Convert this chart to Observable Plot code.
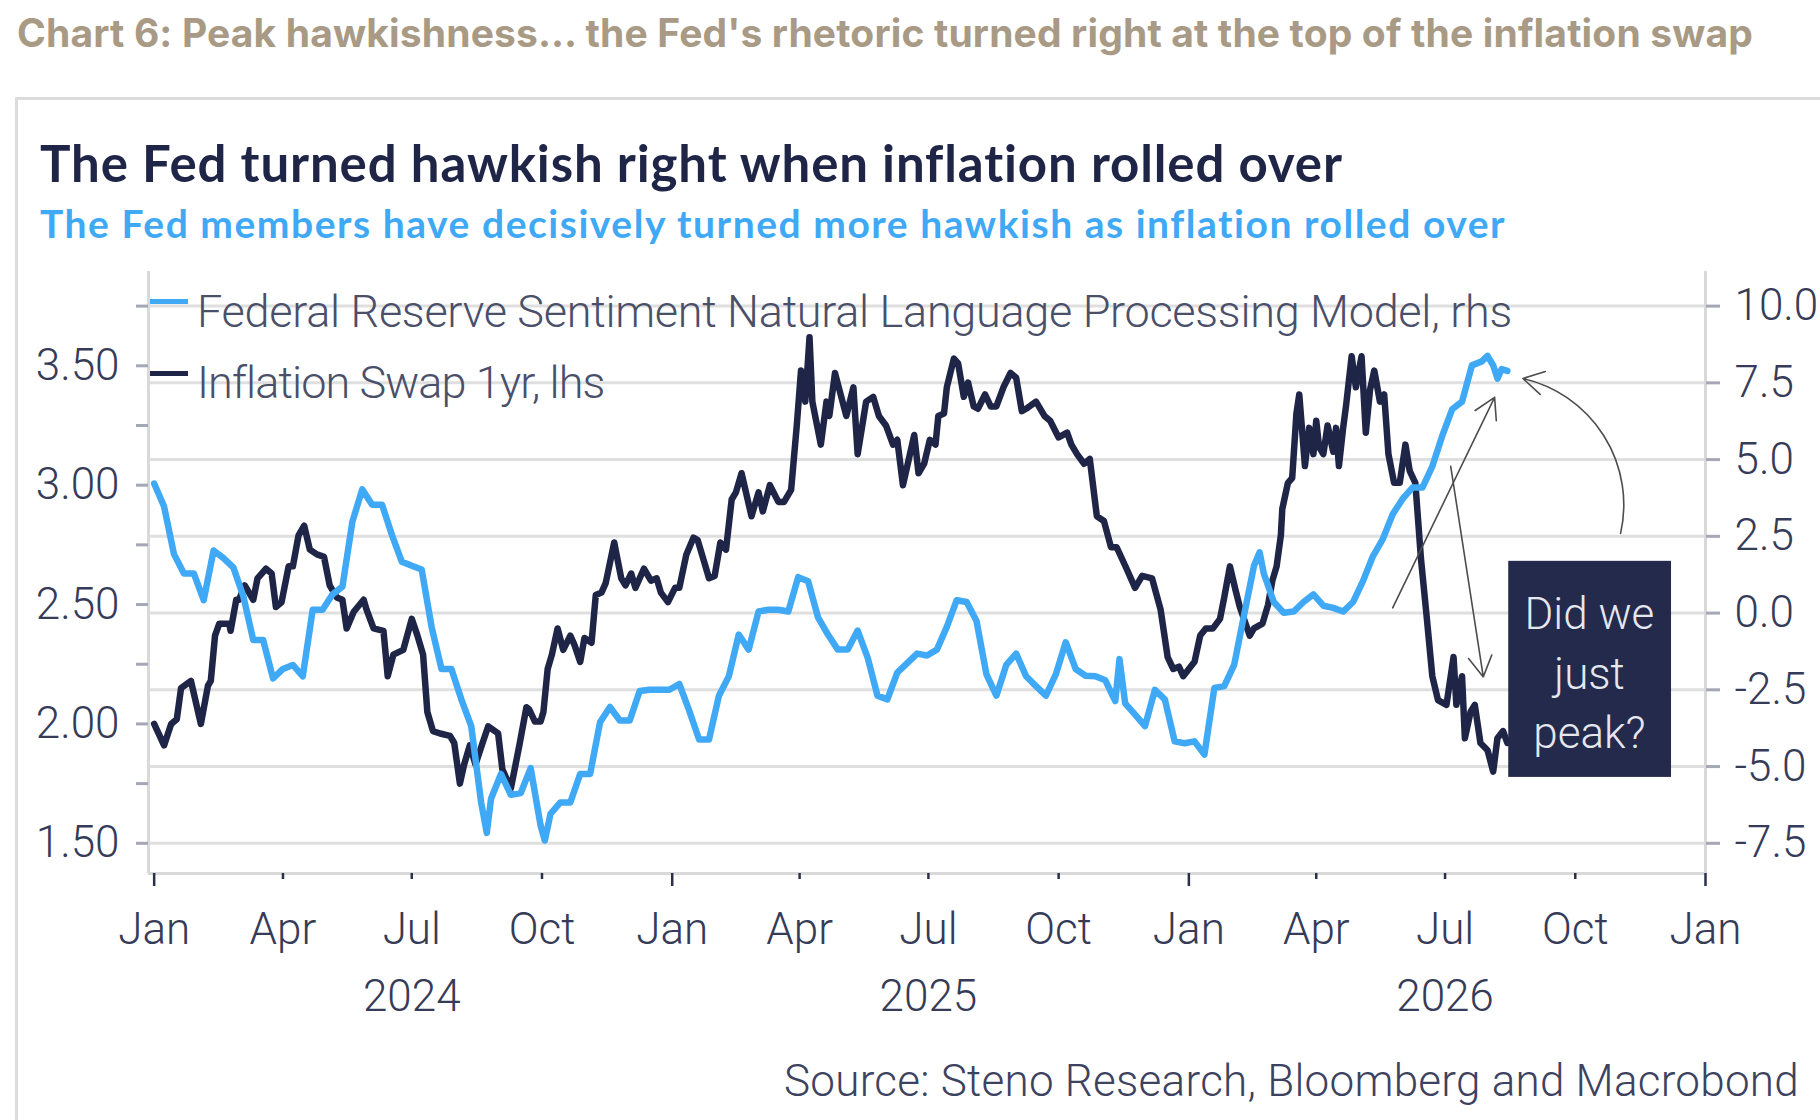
<!DOCTYPE html>
<html>
<head>
<meta charset="utf-8">
<script src="https://cdn.jsdelivr.net/npm/d3@7"></script>
<script src="https://cdn.jsdelivr.net/npm/@observablehq/plot@0.6"></script>
<style>
  html, body { margin: 0; padding: 0; background: #fff; }
  #wrap { position: relative; width: 1820px; height: 1120px; overflow: hidden; background: #fff; }
  .t { position: absolute; white-space: nowrap; line-height: 1; }
  #chartTitle { left: 17px; top: 8.6px; font: 700 39px Inter, sans-serif; color: #a89a84; }
  #panel { position: absolute; left: 15px; top: 97px; width: 1900px; height: 1100px;
           border-top: 3px solid #dcdcdc; border-left: 3px solid #dcdcdc; }
  #mainTitle { left: 40px; top: 131.5px; font: 700 51px Lato, sans-serif; color: #1f2547; }
  #subTitle { left: 40px; top: 200.4px; font: 700 39px Lato, sans-serif; color: #3fa9f5; }
  #plotHolder { position: absolute; left: 0; top: 250px; }
  .leg { font: 300 45px Roboto, sans-serif; color: #4a4f6a; }
  .sw { position: absolute; left: 150px; width: 38px; height: 5px; }
  #source { right: 21px; top: 1054.7px; font: 300 44px Roboto, sans-serif; color: #3d4260; }
</style>
</head>
<body>
<div id="wrap">
  <div id="chartTitle" class="t" data-w="1736">Chart 6: Peak hawkishness… the Fed's rhetoric turned right at the top of the inflation swap</div>
  <div id="panel"></div>
  <div id="mainTitle" class="t" data-w="1304">The Fed turned hawkish right when inflation rolled over</div>
  <div id="subTitle" class="t" data-w="1467">The Fed members have decisively turned more hawkish as inflation rolled over</div>
  <div id="plotHolder"></div>
  <div class="sw" style="top:299px;background:#3fa9f5"></div>
  <div class="t leg" style="left:197px;top:284.7px" data-w="1315">Federal Reserve Sentiment Natural Language Processing Model, rhs</div>
  <div class="sw" style="top:371px;background:#1f2547"></div>
  <div class="t leg" style="left:197px;top:355.5px" data-w="407">Inflation Swap 1yr, lhs</div>
  <div id="source" class="t" data-w="1015">Source: Steno Research, Bloomberg and Macrobond</div>
</div>
<script>
// ---------- Data ----------
// Inflation Swap 1yr (lhs, %)
const swapDates = [
"2024-01-01","2024-01-08","2024-01-13","2024-01-17","2024-01-20","2024-01-27","2024-02-03","2024-02-08","2024-02-10",
"2024-02-13","2024-02-16","2024-02-23","2024-02-24","2024-02-28","2024-03-01","2024-03-05","2024-03-11","2024-03-14",
"2024-03-20","2024-03-24","2024-03-27","2024-03-31","2024-04-05","2024-04-08","2024-04-12","2024-04-16","2024-04-20",
"2024-04-25","2024-04-30","2024-05-04","2024-05-09","2024-05-13","2024-05-16","2024-05-21","2024-05-28","2024-05-30",
"2024-06-04","2024-06-11","2024-06-14","2024-06-18","2024-06-25","2024-07-01","2024-07-05","2024-07-09","2024-07-12",
"2024-07-16","2024-07-21","2024-07-28","2024-07-31","2024-08-04","2024-08-07","2024-08-11","2024-08-15","2024-08-20",
"2024-08-24","2024-08-31","2024-09-03","2024-09-09","2024-09-15","2024-09-20","2024-09-22","2024-09-26","2024-09-30",
"2024-10-02","2024-10-05","2024-10-08","2024-10-12","2024-10-16","2024-10-21","2024-10-24","2024-10-28","2024-10-31",
"2024-11-05","2024-11-08","2024-11-12","2024-11-15","2024-11-21","2024-11-26","2024-11-29","2024-12-03","2024-12-06",
"2024-12-12","2024-12-17","2024-12-21","2024-12-24","2024-12-29","2025-01-03","2025-01-06","2025-01-11","2025-01-16",
"2025-01-19","2025-01-23","2025-01-27","2025-01-31","2025-02-04","2025-02-08","2025-02-12","2025-02-15","2025-02-19",
"2025-02-26","2025-03-03","2025-03-06","2025-03-11","2025-03-17","2025-03-21","2025-03-26","2025-03-30","2025-04-02",
"2025-04-05","2025-04-08","2025-04-10","2025-04-16","2025-04-20","2025-04-22","2025-04-26","2025-04-30","2025-05-04",
"2025-05-09","2025-05-12","2025-05-18","2025-05-23","2025-05-27","2025-06-01","2025-06-06","2025-06-09","2025-06-13",
"2025-06-21","2025-06-24","2025-06-28","2025-07-02","2025-07-06","2025-07-08","2025-07-12","2025-07-14","2025-07-19",
"2025-07-22","2025-07-26","2025-07-29","2025-08-02","2025-08-05","2025-08-10","2025-08-14","2025-08-18","2025-08-23",
"2025-08-28","2025-09-01","2025-09-05","2025-09-08","2025-09-15","2025-09-21","2025-09-25","2025-10-01","2025-10-07",
"2025-10-10","2025-10-14","2025-10-19","2025-10-23","2025-10-28","2025-11-02","2025-11-07","2025-11-11","2025-11-18",
"2025-11-24","2025-11-29","2025-12-06","2025-12-12","2025-12-17","2025-12-21","2025-12-25","2025-12-28","2026-01-01",
"2026-01-05","2026-01-09","2026-01-13","2026-01-18","2026-01-23","2026-01-26","2026-01-30","2026-02-03","2026-02-06",
"2026-02-13","2026-02-16","2026-02-22","2026-02-26","2026-03-01","2026-03-04","2026-03-07","2026-03-08","2026-03-12",
"2026-03-15","2026-03-18","2026-03-20","2026-03-24","2026-03-27","2026-03-30","2026-04-01","2026-04-03","2026-04-06",
"2026-04-09","2026-04-13","2026-04-15","2026-04-17","2026-04-20","2026-04-22","2026-04-26","2026-04-29","2026-05-03",
"2026-05-06","2026-05-09","2026-05-12","2026-05-16","2026-05-19","2026-05-22","2026-05-26","2026-05-30","2026-06-03",
"2026-06-06","2026-06-10","2026-06-12","2026-06-14","2026-06-18","2026-06-22","2026-06-26","2026-07-02","2026-07-07",
"2026-07-09","2026-07-13","2026-07-15","2026-07-19","2026-07-22","2026-07-26","2026-07-31","2026-08-04","2026-08-07",
"2026-08-11","2026-08-14"];
const swapValues = [
2.00,1.91,2.00,2.02,2.15,2.18,2.00,2.16,2.18,
2.37,2.42,2.42,2.39,2.52,2.52,2.58,2.52,2.61,
2.65,2.63,2.49,2.51,2.66,2.66,2.79,2.83,2.73,
2.71,2.70,2.58,2.53,2.52,2.40,2.47,2.52,2.48,
2.40,2.39,2.20,2.29,2.31,2.44,2.37,2.29,2.05,
1.97,1.96,1.95,1.92,1.75,1.83,1.91,1.83,1.92,
1.99,1.96,1.81,1.73,1.91,2.07,2.06,2.01,2.01,
2.05,2.23,2.29,2.40,2.31,2.37,2.33,2.26,2.36,
2.34,2.54,2.55,2.59,2.76,2.61,2.58,2.63,2.57,
2.65,2.60,2.61,2.55,2.51,2.57,2.57,2.71,2.78,
2.77,2.69,2.61,2.62,2.76,2.73,2.94,2.97,3.05,
2.87,2.97,2.89,3.00,2.93,2.93,2.98,3.25,3.48,
3.35,3.62,3.35,3.17,3.35,3.29,3.47,3.38,3.29,
3.41,3.13,3.35,3.37,3.29,3.25,3.17,3.19,3.00,
3.21,3.05,3.09,3.19,3.17,3.29,3.30,3.41,3.53,
3.51,3.37,3.43,3.33,3.32,3.38,3.33,3.33,3.41,
3.47,3.45,3.31,3.32,3.35,3.29,3.27,3.20,3.22,
3.17,3.13,3.09,3.11,2.87,2.85,2.74,2.74,2.65,
2.57,2.62,2.61,2.48,2.28,2.23,2.24,2.20,2.23,
2.26,2.37,2.40,2.40,2.44,2.53,2.66,2.56,2.49,
2.37,2.40,2.42,2.50,2.60,2.66,2.79,2.90,3.01,
3.03,3.30,3.38,3.08,3.24,3.13,3.27,3.16,3.13,
3.25,3.14,3.24,3.08,3.24,3.33,3.54,3.41,3.54,
3.22,3.40,3.48,3.35,3.38,3.13,3.01,3.01,3.17,
3.06,3.01,2.85,2.69,2.45,2.20,2.10,2.08,2.28,
2.08,2.20,1.94,2.05,2.08,1.92,1.89,1.80,1.94,
1.97,1.92];

// Federal Reserve Sentiment NLP model (rhs)
const nlpDates = [
"2024-01-01","2024-01-08","2024-01-15","2024-01-22","2024-01-29","2024-02-05","2024-02-12","2024-02-19","2024-02-26",
"2024-03-04","2024-03-11","2024-03-18","2024-03-25","2024-04-01","2024-04-08","2024-04-15","2024-04-22","2024-04-29",
"2024-05-06","2024-05-13","2024-05-20","2024-05-27","2024-06-03","2024-06-10","2024-06-17","2024-06-24","2024-07-01",
"2024-07-08","2024-07-15","2024-07-22","2024-07-29","2024-08-05","2024-08-12","2024-08-19","2024-08-23","2024-08-26",
"2024-09-02","2024-09-09","2024-09-16","2024-09-23","2024-09-30","2024-10-03","2024-10-07","2024-10-14","2024-10-21",
"2024-10-28","2024-11-04","2024-11-11","2024-11-18","2024-11-25","2024-12-02","2024-12-09","2024-12-16","2024-12-23",
"2024-12-30","2025-01-06","2025-01-13","2025-01-20","2025-01-27","2025-02-03","2025-02-10","2025-02-17","2025-02-24",
"2025-03-03","2025-03-10","2025-03-17","2025-03-24","2025-03-31","2025-04-07","2025-04-14","2025-04-21","2025-04-28",
"2025-05-05","2025-05-12","2025-05-19","2025-05-26","2025-06-02","2025-06-09","2025-06-16","2025-06-23","2025-06-30",
"2025-07-07","2025-07-14","2025-07-21","2025-07-28","2025-08-04","2025-08-11","2025-08-18","2025-08-25","2025-09-01",
"2025-09-08","2025-09-15","2025-09-22","2025-09-29","2025-10-06","2025-10-13","2025-10-20","2025-10-27","2025-11-03",
"2025-11-10","2025-11-13","2025-11-17","2025-11-24","2025-12-01","2025-12-08","2025-12-15","2025-12-22","2025-12-29",
"2026-01-05","2026-01-12","2026-01-19","2026-01-26","2026-02-02","2026-02-09","2026-02-16","2026-02-20","2026-02-23",
"2026-03-02","2026-03-09","2026-03-16","2026-03-23","2026-03-30","2026-04-06","2026-04-13","2026-04-20","2026-04-27",
"2026-05-04","2026-05-11","2026-05-18","2026-05-25","2026-06-01","2026-06-08","2026-06-15","2026-06-22","2026-06-29",
"2026-07-06","2026-07-13","2026-07-20","2026-07-27","2026-07-31","2026-08-04","2026-08-07","2026-08-10","2026-08-14"];
const nlpValues = [
4.22,3.47,1.92,1.29,1.29,0.42,2.04,1.79,1.48,
0.55,-0.88,-0.88,-2.13,-1.82,-1.69,-2.06,0.11,0.11,
0.61,0.86,2.97,4.03,3.53,3.53,2.54,1.67,1.54,
1.42,-0.45,-1.82,-1.82,-2.81,-3.68,-6.17,-7.16,-6.05,
-5.24,-5.92,-5.86,-5.05,-6.92,-7.41,-6.54,-6.17,-6.17,
-5.24,-5.24,-3.56,-3.06,-3.50,-3.50,-2.54,-2.50,-2.50,
-2.50,-2.31,-3.18,-4.12,-4.12,-2.69,-2.06,-0.70,-1.19,
0.05,0.11,0.11,0.05,1.17,1.04,-0.14,-0.70,-1.19,
-1.19,-0.57,-1.44,-2.69,-2.81,-1.94,-1.63,-1.32,-1.38,
-1.19,-0.45,0.42,0.36,-0.26,-2.00,-2.69,-1.69,-1.32,
-2.06,-2.38,-2.69,-2.00,-0.95,-1.82,-2.04,-2.06,-2.19,
-2.87,-1.50,-2.94,-3.31,-3.68,-2.50,-2.81,-4.18,-4.24,
-4.18,-4.61,-2.44,-2.38,-1.69,-0.07,1.54,1.98,1.28,
0.36,0.01,0.05,0.36,0.61,0.24,0.17,0.05,0.36,
1.04,1.85,2.41,3.22,3.72,4.09,4.09,4.78,5.77,
6.64,6.89,8.07,8.20,8.38,8.07,7.64,7.95,7.89];

// axis ticks
const leftTicks = [1.5, 1.75, 2.0, 2.25, 2.5, 2.75, 3.0, 3.25, 3.5, 3.75];
const leftLabelled = [1.5, 2.0, 2.5, 3.0, 3.5];
const rightTicks = [-7.5, -5.0, -2.5, 0.0, 2.5, 5.0, 7.5, 10.0];
const rightLabels = ["-7.5", "-5.0", "-2.5", "0.0", "2.5", "5.0", "7.5", "10.0"];
const janTicks = ["2024-01-01", "2025-01-01", "2026-01-01", "2027-01-01"];
const quarterTicks = ["2024-04-01","2024-07-01","2024-10-01","2025-04-01","2025-07-01","2025-10-01","2026-04-01","2026-07-01","2026-10-01"];
const yearTicks = ["2024-07-01", "2025-07-01", "2026-07-01"];

// annotation (data coordinates)
const calloutBox = {x1: "2026-08-15", x2: "2026-12-08", y1: 1.776, y2: 2.681, xm: "2026-10-11", ym: 2.228, text: "Did we\njust\npeak?"};
const straightArrows = [
  {x1: "2026-05-25", y1: 2.486, x2: "2026-08-05", y2: 3.368},
  {x1: "2026-07-05", y1: 3.079, x2: "2026-07-28", y2: 2.197}
];
const curvedArrows = [
  {x1: "2026-11-02", y1: 2.798, x2: "2026-08-25", y2: 3.447}
];

// ---------- Build ----------
const P = d3.utcParse("%Y-%m-%d");
const toLeft = r => 1.5 + (r + 7.5) * (2.25 / 17.5);   // rhs -> lhs scale
const swap = swapDates.map((d, i) => ({date: P(d), value: swapValues[i]}));
const nlp = nlpDates.map((d, i) => ({date: P(d), value: toLeft(nlpValues[i])}));
const box = [{...calloutBox, x1: P(calloutBox.x1), x2: P(calloutBox.x2), xm: P(calloutBox.xm)}];
const arr1 = straightArrows.map(a => ({...a, x1: P(a.x1), x2: P(a.x2)}));
const arr2 = curvedArrows.map(a => ({...a, x1: P(a.x1), x2: P(a.x2)}));
const xDomain = [P("2023-12-28"), P("2027-01-01")];
const yDomain = [1.3735, 3.895];
const rightTicksLeft = rightTicks.map(toLeft);
const rightLabelFor = v => rightLabels[rightTicksLeft.findIndex(t => Math.abs(t - v) < 1e-6)];
const fmtMonth = d3.utcFormat("%b");

const chart = Plot.plot({
  width: 1820,
  height: 870,
  marginLeft: 148,
  marginRight: 115,
  marginTop: 21,
  marginBottom: 247,
  x: {type: "utc", domain: xDomain},
  y: {domain: yDomain},
  style: {fontFamily: "Roboto, sans-serif", fontSize: "44px", fontWeight: 300, color: "#363b58", background: "transparent", overflow: "visible"},
  marks: [
    Plot.ruleY(rightTicksLeft, {stroke: "#dfdfdf", strokeWidth: 3}),
    Plot.ruleX(xDomain, {stroke: "#d9d9d9", strokeWidth: 3}),
    Plot.ruleY([yDomain[0]], {stroke: "#d9d9d9", strokeWidth: 3}),
    Plot.axisY({ticks: leftTicks, tickSize: 12, tickPadding: 17, strokeWidth: 3, stroke: "#a4a7b5",
      tickFormat: v => leftLabelled.some(t => Math.abs(t - v) < 1e-9) ? v.toFixed(2) : "", label: null}),
    Plot.axisY({anchor: "right", ticks: rightTicksLeft, tickSize: 14, tickPadding: 15, strokeWidth: 3, stroke: "#a4a7b5",
      tickFormat: rightLabelFor, label: null}),
    Plot.axisX({ticks: janTicks.map(P), tickSize: 13, tickPadding: 26, strokeWidth: 2.5, stroke: "#2a2f4a",
      tickFormat: fmtMonth, label: null}),
    Plot.axisX({ticks: quarterTicks.map(P), tickSize: 6, tickPadding: 33, strokeWidth: 2.5, stroke: "#2a2f4a",
      tickFormat: fmtMonth, label: null}),
    Plot.axisX({ticks: yearTicks.map(P), tickSize: 0, tickPadding: 106,
      tickFormat: d3.utcFormat("%Y"), label: null}),
    Plot.line(swap, {x: "date", y: "value", stroke: "#1f2547", strokeWidth: 6.5, strokeLinejoin: "round", strokeLinecap: "round"}),
    Plot.line(nlp, {x: "date", y: "value", stroke: "#40a9f6", strokeWidth: 6.5, strokeLinejoin: "round", strokeLinecap: "round"}),
    Plot.rect(box, {x1: "x1", x2: "x2", y1: "y1", y2: "y2", fill: "#232a4c"}),
    Plot.text(box, {x: "xm", y: "ym", text: "text", fill: "#e6e7ee", fontSize: 44, fontWeight: 300, lineHeight: 1.36}),
    Plot.arrow(arr1, {x1: "x1", y1: "y1", x2: "x2", y2: "y2", stroke: "#4d4d4d", strokeWidth: 1.6, headLength: 22}),
    Plot.arrow(arr2, {x1: "x1", y1: "y1", x2: "x2", y2: "y2", bend: -45, stroke: "#4d4d4d", strokeWidth: 1.6, headLength: 22})
  ]
});
document.getElementById("plotHolder").appendChild(chart);

// fit header / legend / source text widths to the reference by letter-spacing
function fitAll() {
  document.querySelectorAll("[data-w]").forEach(el => {
    el.style.letterSpacing = "0px";
    const w = el.getBoundingClientRect().width;
    const target = +el.dataset.w;
    const n = el.textContent.length;
    el.style.letterSpacing = ((target - w) / n).toFixed(3) + "px";
  });
}
if (document.fonts && document.fonts.ready) document.fonts.ready.then(fitAll); else fitAll();
fitAll();
</script>
</body>
</html>
